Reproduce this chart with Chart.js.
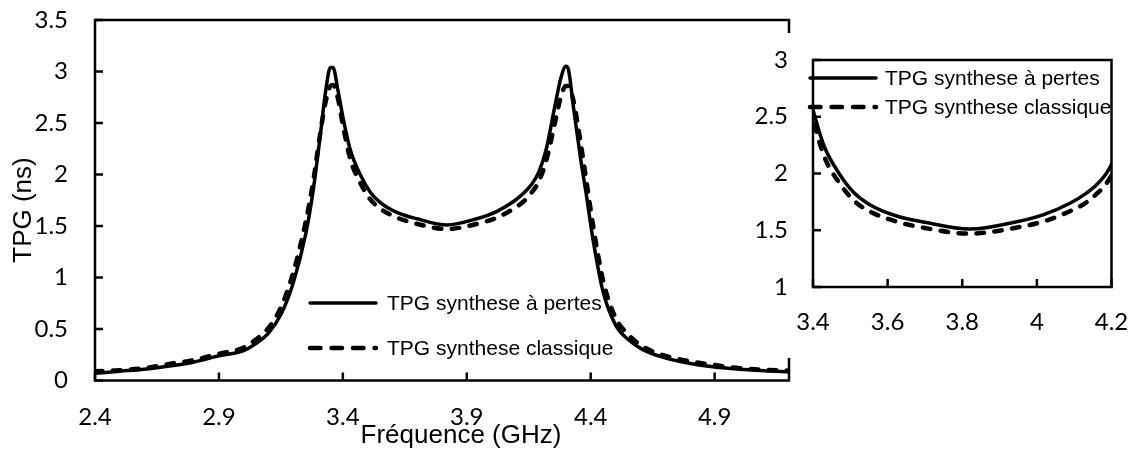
<!DOCTYPE html>
<html>
<head>
<meta charset="utf-8">
<script src="https://cdn.jsdelivr.net/npm/chart.js@4.4.1/dist/chart.umd.min.js"></script>
<style>
  html, body { margin: 0; padding: 0; background: #fff; }
  #wrap { position: relative; width: 1140px; height: 456px; }
  #main { position: absolute; left: 0; top: 0; }
  /* zoom panel sits on top of the right edge of the main frame */
  #zoomBox { position: absolute; left: 755px; top: 33px; width: 385px; height: 325px; background: #fff; }
</style>
</head>
<body>
<div id="wrap">
  <canvas id="main" width="1140" height="456"></canvas>
  <div id="zoomBox"><canvas id="zoom" width="385" height="325"></canvas></div>
</div>
<script>
// Group delay (TPG, ns) vs frequency (GHz), two syntheses.
const freq = [2.40, 2.50, 2.60, 2.70, 2.80, 2.90, 3.00, 3.05, 3.10, 3.15, 3.20, 3.25, 3.28, 3.31, 3.33,
  3.35, 3.36, 3.38, 3.40, 3.43, 3.47, 3.51, 3.55, 3.62, 3.70, 3.82, 3.94, 4.02, 4.09, 4.13, 4.16, 4.19,
  4.22, 4.26, 4.28, 4.30, 4.31, 4.33, 4.36, 4.38, 4.41, 4.45, 4.50, 4.55, 4.61, 4.70, 4.77, 4.90, 5.00,
  5.10, 5.20];
const tpgPertes = [0.07, 0.09, 0.11, 0.14, 0.18, 0.24, 0.29, 0.36, 0.46, 0.64, 0.95, 1.42, 1.84, 2.40, 2.80,
  3.04, 3.04, 2.82, 2.56, 2.24, 2.00, 1.83, 1.73, 1.63, 1.57, 1.51, 1.57, 1.64, 1.74, 1.82, 1.90, 2.02,
  2.24, 2.72, 2.94, 3.05, 3.02, 2.66, 2.14, 1.84, 1.36, 0.86, 0.54, 0.40, 0.30, 0.22, 0.18, 0.13, 0.11,
  0.095, 0.085];
const tpgClassique = [0.09, 0.10, 0.12, 0.16, 0.20, 0.26, 0.32, 0.40, 0.51, 0.71, 1.05, 1.54, 1.93, 2.42, 2.70,
  2.86, 2.87, 2.74, 2.48, 2.15, 1.92, 1.76, 1.67, 1.58, 1.52, 1.47, 1.52, 1.58, 1.67, 1.74, 1.82, 1.93,
  2.13, 2.55, 2.76, 2.86, 2.86, 2.72, 2.30, 1.98, 1.50, 0.97, 0.61, 0.45, 0.33, 0.24, 0.20, 0.15, 0.12,
  0.105, 0.095];

const seriesNames = ["TPG synthese à pertes", "TPG synthese classique"];

const mainXTicks = [2.4, 2.9, 3.4, 3.9, 4.4, 4.9];
const mainYTicks = [0, 0.5, 1, 1.5, 2, 2.5, 3, 3.5];
const zoomXTicks = [3.4, 3.6, 3.8, 4, 4.2];
const zoomYTicks = [1, 1.5, 2, 2.5, 3];

const TICK_FONT = { family: "Lato, 'Open Sans', sans-serif", size: 24 };
const TEXT_FONT = "'Liberation Sans', Arial, sans-serif";

function pts(ys) { return freq.map((f, i) => ({ x: f, y: ys[i] })); }

function datasets() {
  return [
    { label: seriesNames[0], data: pts(tpgPertes), borderColor: "#000", borderWidth: 3.5,
      pointRadius: 0, cubicInterpolationMode: "monotone", clip: 0, borderCapStyle: "round" },
    { label: seriesNames[1], data: pts(tpgClassique), borderColor: "#000", borderWidth: 4.5,
      borderDash: [7.5, 10.5], borderCapStyle: "round", pointRadius: 0,
      cubicInterpolationMode: "monotone", clip: 0 },
  ];
}

// Box frame around the plot area plus short ticks pointing inward.
const frameTicks = {
  id: "frameTicks",
  afterDraw(chart, args, o) {
    const { ctx, chartArea: a, scales } = chart;
    ctx.save();
    ctx.strokeStyle = "#000";
    ctx.lineWidth = o.width;
    ctx.setLineDash([]);
    ctx.strokeRect(a.left, a.top, a.right - a.left, a.bottom - a.top);
    ctx.beginPath();
    scales.x.ticks.forEach((t) => {
      const px = scales.x.getPixelForValue(t.value);
      ctx.moveTo(px, a.bottom); ctx.lineTo(px, a.bottom - o.len);
    });
    scales.y.ticks.forEach((t) => {
      const py = scales.y.getPixelForValue(t.value);
      ctx.moveTo(a.left, py); ctx.lineTo(a.left + o.len, py);
    });
    ctx.stroke();
    ctx.restore();
  },
};

// Hand-placed legend: line sample + label for each series.
const keyBox = {
  id: "keyBox",
  afterDraw(chart, args, o) {
    if (!o.rows) return;
    const { ctx } = chart;
    ctx.save();
    ctx.strokeStyle = "#000";
    ctx.fillStyle = "#000";
    ctx.lineCap = "round";
    ctx.font = o.size + "px " + TEXT_FONT;
    ctx.textBaseline = "middle";
    o.rows.forEach((r, i) => {
      const ds = chart.data.datasets[i];
      ctx.lineWidth = ds.borderWidth;
      ctx.setLineDash(r.dash || []);
      ctx.beginPath();
      ctx.moveTo(o.x1, r.y); ctx.lineTo(o.x2, r.y);
      ctx.stroke();
      ctx.fillText(ds.label, o.tx, r.y + 1);
    });
    ctx.restore();
  },
};

// Axis titles drawn at fixed spots.
const axisTitles = {
  id: "axisTitles",
  afterDraw(chart, args, o) {
    if (!o.x) return;
    const { ctx } = chart;
    ctx.save();
    ctx.fillStyle = "#000";
    ctx.font = o.size + "px " + TEXT_FONT;
    ctx.textAlign = "center";
    ctx.textBaseline = "middle";
    ctx.fillText(o.x.text, o.x.cx, o.x.cy);
    ctx.translate(o.y.cx, o.y.cy);
    ctx.rotate(-Math.PI / 2);
    ctx.fillText(o.y.text, 0, 0);
    ctx.restore();
  },
};

function fmt(v) { return String(Math.round(v * 100) / 100); }

// Fixed axis boxes; label overhang padding is dropped so the layout
// padding alone decides where the plot area sits.
function axes(xMin, xMax, xTicks, yMin, yMax, yTicks, yWidth, xHeight, yPad, xPad) {
  return {
    x: {
      type: "linear", min: xMin, max: xMax,
      grid: { display: false, drawTicks: false }, border: { display: false },
      ticks: { font: TICK_FONT, color: "#000", padding: xPad, maxRotation: 0, autoSkip: false, callback: fmt },
      afterBuildTicks: (s) => { s.ticks = xTicks.map((v) => ({ value: v })); },
      afterFit: (s) => { s.height = xHeight; s.paddingLeft = 0; s.paddingRight = 0; },
    },
    y: {
      type: "linear", min: yMin, max: yMax,
      grid: { display: false, drawTicks: false }, border: { display: false },
      ticks: { font: TICK_FONT, color: "#000", padding: yPad, autoSkip: false, callback: fmt },
      afterBuildTicks: (s) => { s.ticks = yTicks.map((v) => ({ value: v })); },
      afterFit: (s) => { s.width = yWidth; s.paddingTop = 0; s.paddingBottom = 0; },
    },
  };
}

new Chart(document.getElementById("main"), {
  type: "line",
  data: { datasets: datasets() },
  plugins: [frameTicks, keyBox, axisTitles],
  options: {
    responsive: false, animation: false,
    layout: { padding: { left: 0, top: 20, right: 351, bottom: 0 } },
    scales: axes(2.4, 5.2, mainXTicks, 0, 3.5, mainYTicks, 95, 75.5, 27, 22),
    plugins: {
      legend: { display: false }, tooltip: { enabled: false },
      frameTicks: { width: 2.5, len: 8 },
      keyBox: { x1: 310, x2: 376, tx: 387, size: 21,
        rows: [{ y: 303 }, { y: 348, dash: [10.5, 11] }] },
      axisTitles: { size: 26,
        x: { text: "Fréquence (GHz)", cx: 461, cy: 436 },
        y: { text: "TPG (ns)", cx: 24, cy: 210 } },
    },
  },
});

new Chart(document.getElementById("zoom"), {
  type: "line",
  data: { datasets: datasets() },
  plugins: [frameTicks, keyBox],
  options: {
    responsive: false, animation: false,
    layout: { padding: { left: 0, top: 27, right: 28.5, bottom: 0 } },
    scales: axes(3.4, 4.2, zoomXTicks, 1, 3, zoomYTicks, 58, 71, 25, 21),
    plugins: {
      legend: { display: false }, tooltip: { enabled: false },
      frameTicks: { width: 2.5, len: 8 },
      keyBox: { x1: 55, x2: 121, tx: 130, size: 21,
        rows: [{ y: 45 }, { y: 74, dash: [10.5, 11] }] },
    },
  },
});
</script>
</body>
</html>
